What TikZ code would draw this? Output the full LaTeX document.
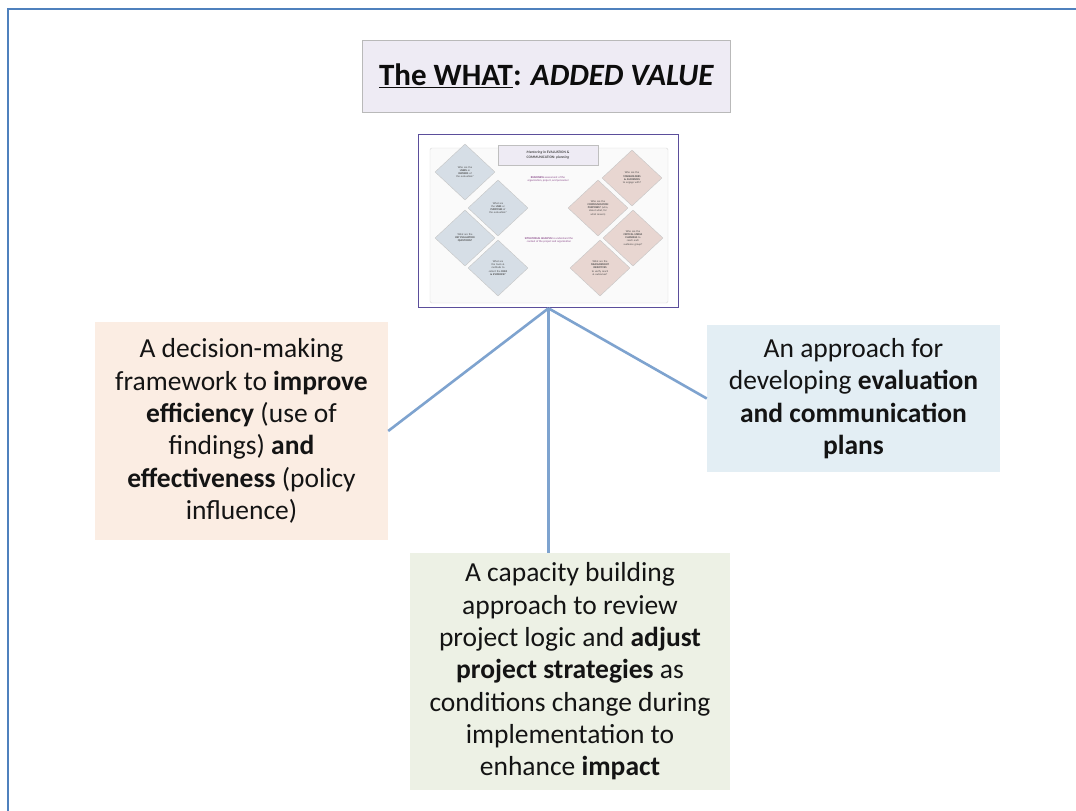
\documentclass[tikz,border=0pt]{standalone}
\usepackage{fontspec}
\setmainfont{Carlito}
\usetikzlibrary{shapes.geometric}
\definecolor{framec}{HTML}{4F81BD}
\definecolor{linkc}{HTML}{7EA3CF}
\definecolor{peach}{HTML}{FBEDE3}
\definecolor{paleblue}{HTML}{E3EEF4}
\definecolor{palegreen}{HTML}{EDF1E5}
\definecolor{lavender}{HTML}{EEEBF4}
\definecolor{thumbc}{HTML}{5B4E9B}
\definecolor{diaL}{HTML}{D6DEE6}
\definecolor{diaR}{HTML}{E8D6D1}
\definecolor{tinytext}{HTML}{4A4A4A}
\definecolor{tinypurple}{HTML}{8A4A8A}
\tikzset{
  textbox/.style={inner sep=0pt, align=center, font=\fontsize{27.5}{32.3}\selectfont, text=black!92},
  link/.style={draw=linkc, line width=2.6pt},
  dia/.style={diamond, draw=gray!45, line width=0.4pt, inner sep=0pt, minimum width=60pt, minimum height=56pt,
     align=center, text width=21pt, font=\fontsize{2.7}{3.2}\selectfont, text=tinytext},
  diaLeft/.style={dia, fill=diaL},
  diaRight/.style={dia, fill=diaR},
  tiny/.style={align=center, font=\fontsize{2.8}{3.3}\selectfont, inner sep=0pt}
}
\begin{document}
\begin{tikzpicture}[x=1pt,y=-1pt]
\useasboundingbox (0,0) rectangle (1076,811);
\fill[white] (0,0) rectangle (1076,811);
% frame
\draw[framec, line width=2.6pt] (1076,9) -- (8,9) -- (8,811);

% title
\node[draw=gray!55, line width=0.8pt, fill=lavender, minimum width=368pt, minimum height=72pt, inner sep=0pt,
      font=\fontsize{31}{36}\selectfont\bfseries, text=black!95] (title) at (546.5,76)
  {\underline{The WHAT}: \textit{ADDED VALUE}};

% thumbnail
\node[draw=thumbc, line width=1.6pt, fill=white, minimum width=260pt, minimum height=173pt, inner sep=0pt] (thumb) at (548.5,221) {};
\draw[draw=gray!30, fill=gray!4, rounded corners=2pt] (430,148) rectangle (668,303);
\node[draw=gray!50, fill=lavender, minimum width=100pt, minimum height=20pt, inner sep=0pt,
      font=\fontsize{3.6}{4.6}\selectfont\bfseries, align=center, text=tinytext] (ttitle) at (548,155)
  {\textit{Mentoring in} EVALUATION \&\\ COMMUNICATION: \textit{planning}};
\node[diaLeft] (l1) at (465,172) {Who are the \textbf{USERS} or \textbf{OWNERS} of the evaluation?};
\node[diaLeft] (l2) at (498,208) {What are the \textbf{USES} or \textbf{PURPOSES} of the evaluation?};
\node[diaLeft] (l3) at (465,238) {What are the \textbf{KEY EVALUATION QUESTIONS?}};
\node[diaLeft] (l4) at (498,268) {What are the tools \& methods to collect the \textbf{DATA \& EVIDENCE?}};
\node[diaRight] (r1) at (632,178) {Who are the \textbf{STAKEHOLDERS \& AUDIENCES} to engage with?};
\node[diaRight] (r2) at (598,208) {Who are the \textbf{COMMUNICATION PURPOSES?} (who, about what, for what reason)};
\node[diaRight] (r3) at (633,238) {Who are the \textbf{CRITICAL MEDIA CHANNELS} to reach each audience group?};
\node[diaRight] (r4) at (600,268) {What are the \textbf{MEASUREMENT OBJECTIVES} to verify reach \& outcomes?};
\node[tiny, text=tinypurple] (ready) at (548,179) {\textbf{READINESS} assessment of the\\ organization, project, and personnel};
\node[tiny, text=tinypurple] (situ) at (549,240) {\textbf{SITUATIONAL ANALYSIS} to understand the\\ context of the project and organization};

% outcome boxes
\node[textbox, fill=peach, minimum width=293pt, minimum height=218pt] (left) at (241.5,431)
  {A decision-making\\ framework to \textbf{improve}\\ \textbf{efficiency} (use of\\ findings) \textbf{and}\\ \textbf{effectiveness} (policy\\ influence)};
\node[textbox, fill=paleblue, minimum width=293pt, minimum height=147pt] (right) at (853.5,398.5)
  {An approach for\\ developing \textbf{evaluation}\\ \textbf{and communication}\\ \textbf{plans}};
\node[textbox, fill=palegreen, minimum width=320pt, minimum height=237pt] (bottom) at (570,671.5)
  {A capacity building\\ approach to review\\ project logic and \textbf{adjust}\\ \textbf{project strategies} as\\ conditions change during\\ implementation to\\ enhance \textbf{impact}};

% connectors
\draw[link] (thumb.south) -- (left.east);
\draw[link] (thumb.south) -- (right.west);
\draw[link] (thumb.south) -- (thumb.south |- bottom.north);
\end{tikzpicture}
\end{document}
